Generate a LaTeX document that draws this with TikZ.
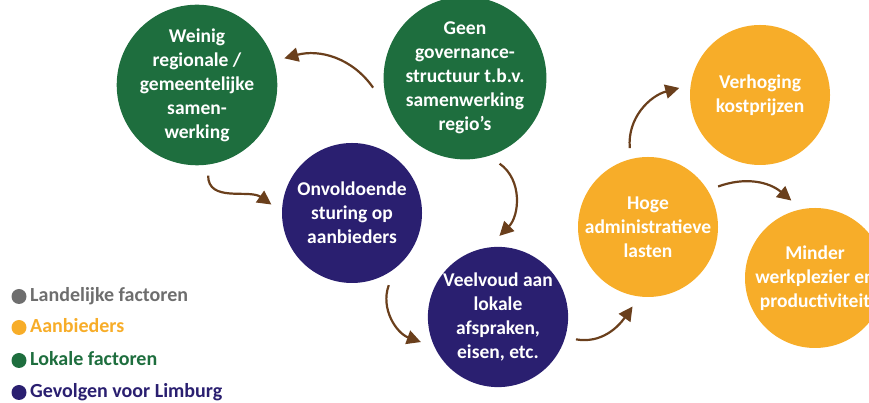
\documentclass[tikz,border=0pt]{standalone}
\usepackage{fontspec}
\setmainfont{Carlito}
\usetikzlibrary{arrows.meta}

\definecolor{lokaal}{RGB}{30,110,62}
\definecolor{gevolg}{RGB}{42,31,112}
\definecolor{aanbied}{RGB}{247,173,41}
\definecolor{landelijk}{RGB}{110,110,110}
\definecolor{pijl}{RGB}{106,63,28}

\tikzset{
  factor/.style={circle, minimum size=140pt, inner sep=0pt, outer sep=11pt,
    text=white, align=center, font=\bfseries\fontsize{19.5}{24}\selectfont},
  verband/.style={draw=pijl, line width=2.2pt,
    -{Triangle[length=14pt,width=14pt]}},
  stip/.style={circle, minimum size=15pt, inner sep=0pt},
  legenda/.style={anchor=base west, inner sep=0pt,
    font=\bfseries\fontsize{20}{24}\selectfont}
}

\begin{document}
\begin{tikzpicture}[x=1pt,y=1pt]
   \useasboundingbox (0,0) rectangle (869,403);
   \clip (0,0) rectangle (869,403);
   % factoren
   \node[factor, fill=lokaal] (weinig) at (197,318)
      {Weinig\\regionale /\\gemeentelijke\\samen-\\werking};
   \node[factor, fill=lokaal] (geen) at (465,325)
      {Geen\\governance-\\structuur t.b.v.\\samenwerking\\regio’s};
   \node[factor, fill=gevolg] (onv) at (352,190)
      {Onvoldoende\\sturing op\\aanbieders};
   \node[factor, fill=gevolg] (veel) at (498,86)
      {Veelvoud aan\\lokale\\afspraken,\\eisen, etc.};
   \node[factor, fill=aanbied] (hoge) at (648,176)
      {Hoge\\administratieve\\lasten};
   \node[factor, fill=aanbied] (verh) at (760,308)
      {Verhoging\\kostprijzen};
   \node[factor, fill=aanbied] (minder) at (815,125)
      {Minder\\werkplezier en\\productiviteit};
   % verbanden
   \draw[verband] (geen.186) to[out=125,in=15] (weinig.17);
   \draw[verband] (weinig.277) to[out=270,in=145] (onv.174);
   \draw[verband] (geen.292) to[out=-35,in=45] (veel.89);
   \draw[verband] (onv.297) to[out=250,in=160] (veel.198);
   \draw[verband] (veel.344) to[out=-10,in=235] (hoge.259);
   \draw[verband] (hoge.103) to[out=95,in=195] (verh.175);
   \draw[verband] (hoge.30) to[out=20,in=140] (minder.107);
   % legenda
   \foreach \kleur/\tekst/\y [count=\i] in {landelijk/Landelijke factoren/101,
      aanbied/Aanbieders/70, lokaal/Lokale factoren/37,
      gevolg/Gevolgen voor Limburg/5}{
      \node[stip, fill=\kleur] (stip\i) at (19,\y+5.5) {};
      \node[legenda, text=\kleur] (leg\i) at (30,\y) {\tekst};
   }
\end{tikzpicture}
\end{document}
